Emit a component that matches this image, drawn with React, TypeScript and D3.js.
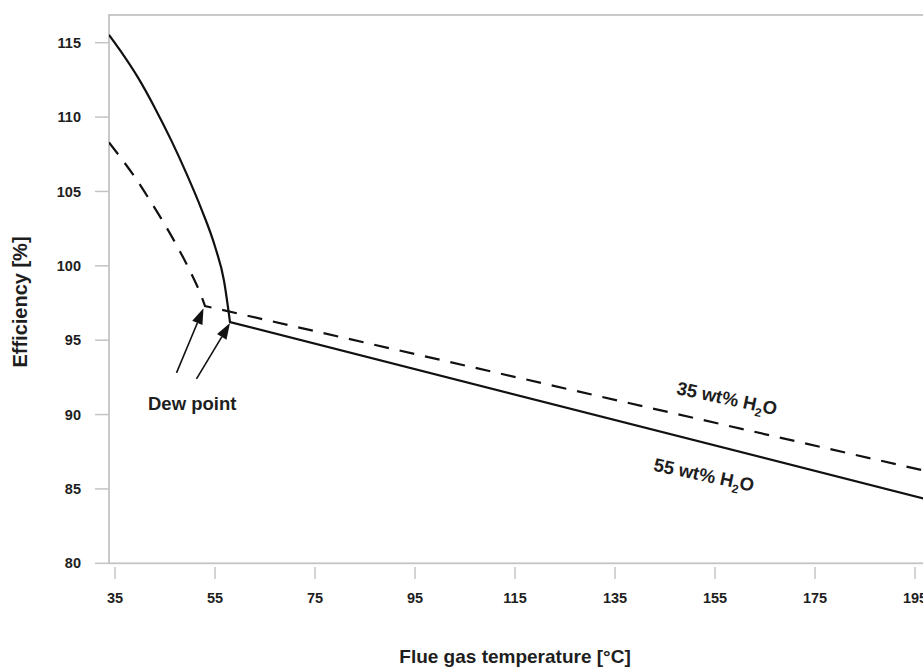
import React from "react";
import * as d3 from "d3";

// ---- data ----
const xTicks = [35, 55, 75, 95, 115, 135, 155, 175, 195];
const yTicks = [80, 85, 90, 95, 100, 105, 110, 115];

// 55 wt% H2O (solid): condensing branch up to dew point, then dry branch
const wet55Temp = [33.8, 36, 39.7, 43, 46.3, 49.3, 52.3, 55, 56.8, 58];
const wet55Eff = [115.53, 114.5, 112.6, 110.6, 108.4, 106.2, 103.8, 101.3, 99.0, 96.22];
const dry55Temp = [58, 198];
const dry55Eff = [96.22, 84.24];

// 35 wt% H2O (dashed)
const wet35Temp = [33.8, 36.3, 39, 41.7, 45, 47.7, 50.3, 52.3, 53];
const wet35Eff = [108.3, 107.2, 105.95, 104.55, 102.75, 101.15, 99.45, 97.95, 97.3];
const dry35Temp = [53, 198];
const dry35Eff = [97.3, 86.14];

// annotation arrows (tail -> dew point)
const arrowTailTemp = [47.3, 51.3];
const arrowTailEff = [92.8, 92.4];
const arrowTipTemp = [52.7, 58];
const arrowTipEff = [97.15, 96.15];

const W = 923;
const H = 668;
const FONT = "'Liberation Sans', Arial, Helvetica, sans-serif";
const INK = "#1e1e1e";
const AXIS = "#c4c4c4";

export default function App() {
  const left = 109;
  const right = 930;
  const top = 15;
  const bottom = 563.3;

  const x = d3.scaleLinear().domain([33.8, 198]).range([left, right]);
  const y = d3.scaleLinear().domain([80, 80 + (bottom - top) / 14.874]).range([bottom, top]);

  const zip = (a: number[], b: number[]) => a.map((v, i) => [v, b[i]] as [number, number]);
  const curveGen = d3
    .line<[number, number]>()
    .x((d) => x(d[0]))
    .y((d) => y(d[1]))
    .curve(d3.curveMonotoneX);
  const lineGen = d3
    .line<[number, number]>()
    .x((d) => x(d[0]))
    .y((d) => y(d[1]));

  const solidPath = (curveGen(zip(wet55Temp, wet55Eff)) || "") + (lineGen(zip(dry55Temp, dry55Eff)) || "").replace(/^M/, "L");
  const dashPath = (curveGen(zip(wet35Temp, wet35Eff)) || "") + (lineGen(zip(dry35Temp, dry35Eff)) || "").replace(/^M/, "L");

  const arrows = arrowTailTemp.map((t, i) => {
    const x0 = x(t), y0 = y(arrowTailEff[i]);
    const x1 = x(arrowTipTemp[i]), y1 = y(arrowTipEff[i]);
    const ang = Math.atan2(y1 - y0, x1 - x0);
    const len = 16, hw = 5.5;
    const bx = x1 - len * Math.cos(ang), by = y1 - len * Math.sin(ang);
    const px = -Math.sin(ang) * hw, py = Math.cos(ang) * hw;
    return { x0, y0, bx, by, x1, y1, head: `${x1},${y1} ${bx + px},${by + py} ${bx - px},${by - py}` };
  });

  return (
    <svg width={W} height={H} style={{ position: "absolute", left: 0, top: 0, background: "#fff" }} fontFamily={FONT}>
      <defs>
        <clipPath id="plot">
          <rect x={left} y={top} width={right - left} height={bottom - top} />
        </clipPath>
      </defs>
      {/* frame */}
      <rect x={left} y={top} width={right - left} height={bottom - top} fill="none" stroke={AXIS} strokeWidth={1.8} />
      {/* y ticks */}
      {yTicks.map((t) => (
        <g key={"y" + t}>
          <line x1={95} x2={left} y1={y(t)} y2={y(t)} stroke={AXIS} strokeWidth={1.5} />
          <text x={81} y={y(t)} dy="0.35em" textAnchor="end" fontSize={14.5} fontWeight="bold" fill={INK}>
            {t}
          </text>
        </g>
      ))}
      {/* x ticks */}
      {xTicks.map((t) => (
        <g key={"x" + t}>
          <line x1={x(t)} x2={x(t)} y1={567} y2={579} stroke={AXIS} strokeWidth={1.5} />
          <text x={x(t)} y={603} textAnchor="middle" fontSize={14.5} fontWeight="bold" fill={INK}>
            {t}
          </text>
        </g>
      ))}
      {/* axis titles */}
      <text x={515} y={663} textAnchor="middle" fontSize={19} fontWeight="bold" fill={INK}>
        Flue gas temperature [°C]
      </text>
      <text transform={`translate(27,302) rotate(-90)`} textAnchor="middle" fontSize={20} fontWeight="bold" fill={INK}>
        Efficiency [%]
      </text>
      {/* series */}
      <g clipPath="url(#plot)">
        <path d={solidPath} fill="none" stroke="#111" strokeWidth={2.2} />
        <path d={dashPath} fill="none" stroke="#111" strokeWidth={2.2} strokeDasharray="15,11" />
      </g>
      {/* arrows */}
      {arrows.map((a, i) => (
        <g key={"a" + i}>
          <line x1={a.x0} y1={a.y0} x2={a.bx} y2={a.by} stroke="#111" strokeWidth={1.6} />
          <polygon points={a.head} fill="#111" />
        </g>
      ))}
      <text x={x(41.6)} y={y(90.3)} fontSize={18.5} fontWeight="bold" fill={INK}>
        Dew point
      </text>
      {/* series labels */}
      <text transform={`translate(${x(157.4)},${y(91.1)}) rotate(12)`} textAnchor="middle" dy="0.35em" fontSize={18.5} fontWeight="bold" fill={INK}>
        35 wt% H<tspan fontSize={12} dy={5}>2</tspan><tspan dy={-5}>O</tspan>
      </text>
      <text transform={`translate(${x(152.8)},${y(85.95)}) rotate(12)`} textAnchor="middle" dy="0.35em" fontSize={18.5} fontWeight="bold" fill={INK}>
        55 wt% H<tspan fontSize={12} dy={5}>2</tspan><tspan dy={-5}>O</tspan>
      </text>
    </svg>
  );
}
